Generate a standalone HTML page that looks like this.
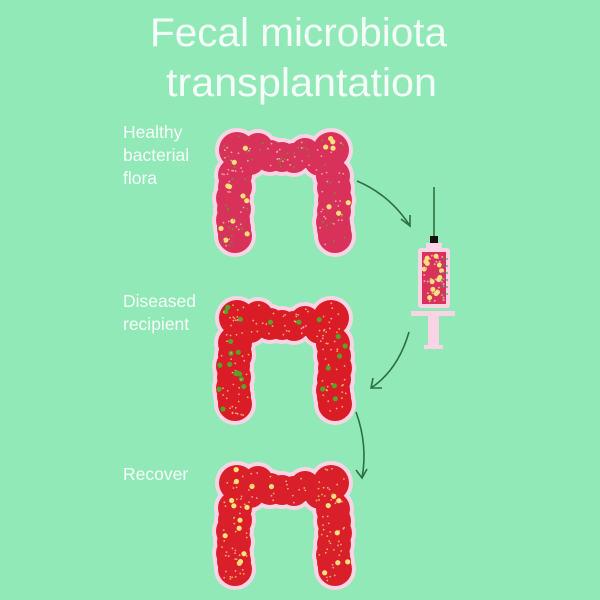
<!DOCTYPE html>
<html><head><meta charset="utf-8"><style>
html,body{margin:0;padding:0;background:#92e9b8;}
svg{display:block}
text{font-family:"Liberation Sans",sans-serif;fill:#fff;font-weight:normal}
</style></head><body>
<svg id="s" width="600" height="600" viewBox="0 0 600 600" xmlns="http://www.w3.org/2000/svg">
<rect width="600" height="600" fill="#92e9b8"/>
<text x="150" y="46" font-size="40" textLength="297" lengthAdjust="spacingAndGlyphs" fill-opacity="0.9">Fecal  microbiota</text>
<text x="166" y="96" font-size="40" textLength="271" lengthAdjust="spacingAndGlyphs" fill-opacity="0.9">transplantation</text>
<text x="123" y="138" font-size="17.5" fill-opacity="0.9">Healthy</text>
<text x="123" y="161" font-size="17.5" fill-opacity="0.9">bacterial</text>
<text x="123" y="184" font-size="17.5" fill-opacity="0.9">flora</text>
<text x="123" y="307" font-size="17.5" fill-opacity="0.9">Diseased</text>
<text x="123" y="330" font-size="17.5" fill-opacity="0.9">recipient</text>
<text x="123" y="480" font-size="17.5" fill-opacity="0.9">Recover</text>
<g id="colons"></g>
<g fill="none" stroke="#2f6f3f" stroke-width="1.6">
<path d="M357 181 Q390 195 410 226"/><path d="M401 219 L410 226 L410 215"/>
<path d="M409 332 Q398 370 371 388"/><path d="M373 378 L371 388 L382 388"/>
<path d="M356 412 Q368 445 362 478"/><path d="M356 470 L362 478 L367 469"/>
<line x1="434" y1="187" x2="434" y2="237"/>
</g>
<rect x="430" y="236" width="8" height="7" fill="#1a0f12"/>
<rect x="426" y="243" width="16" height="6" fill="#fad4e4"/>
<rect x="418" y="248" width="32" height="60" rx="3" fill="#fad4e4"/>
<rect x="422" y="252" width="24" height="52" fill="#d8325a"/>
<g id="syr"></g>
<g stroke="#557d5e" stroke-width="1">
<line x1="441" y1="259" x2="448" y2="259"/><line x1="441" y1="266" x2="448" y2="266"/><line x1="441" y1="273" x2="448" y2="273"/><line x1="441" y1="280" x2="448" y2="280"/><line x1="441" y1="287" x2="448" y2="287"/><line x1="441" y1="294" x2="448" y2="294"/>
</g>
<rect x="411" y="311" width="44" height="5" fill="#fad4e4"/>
<rect x="428" y="316" width="11" height="30" fill="#fad4e4"/>
<rect x="424" y="345" width="19" height="4" fill="#fad4e4"/>
</svg>
<script>
var NS="http://www.w3.org/2000/svg";
var circ=[[237,150,18],[258,148,15],[282,157,15],[305,153,15],[331,150,18],[270,156,16],[294,158,15],[318,157,15],[250,160,15],
[235,175,17],[233,198,17],[233,220,17],[235,236,17],[235,187,17],[234,209,17],[234,228,17],
[333,176,17],[335,200,17],[333,222,17],[335,236,17],[334,188,17],[334,211,17],[334,229,17],[244,160,16],[320,160,16]];
var seed=7;function r(){seed=(seed*9301+49297)%233280;return seed/233280;}
function c(g,x,y,rad,f){var e=document.createElementNS(NS,"circle");e.setAttribute("cx",x);e.setAttribute("cy",y);e.setAttribute("r",rad);e.setAttribute("fill",f);g.appendChild(e);}
function inside(x,y){for(var i=0;i<circ.length;i++){var d=circ[i];if((x-d[0])*(x-d[0])+(y-d[1])*(y-d[1])<(d[2]-3)*(d[2]-3))return true;}return false;}
var G=document.getElementById("colons");
var specs=[[0,"#d8325a",["#f5e07a","#f3a0a8","#5aa02a"],[0.12]],[168,"#d91c26",["#5aa02a","#f0b060","#f3a0a8"],[0.12]],[333,"#d9202a",["#f5e07a","#f0b060","#f3a0a8"],[0.15]]];
specs.forEach(function(s){
 var g=document.createElementNS(NS,"g");g.setAttribute("transform","translate(0,"+s[0]+")");G.appendChild(g);
 circ.forEach(function(d){c(g,d[0],d[1],d[2]+4,"#fad4e4");});
 circ.forEach(function(d){c(g,d[0],d[1],d[2],s[1]);});
 for(var k=0;k<300;k++){var x=215+r()*140,y=130+r()*125;if(!inside(x,y))continue;var t=r();var big=r()<s[3][0];
  c(g,x,y,big?2.6:0.9,big?s[2][0]:(t<0.6?s[2][1]:s[2][2]));}
});
var S=document.getElementById("syr");
for(var k=0;k<45;k++){var x=424+r()*20,y=254+r()*48;var b=r()<0.4;c(S,x,y,b?2.5:1,b?"#f5e07a":"#f3a0a8");}
</script>
</body></html>
